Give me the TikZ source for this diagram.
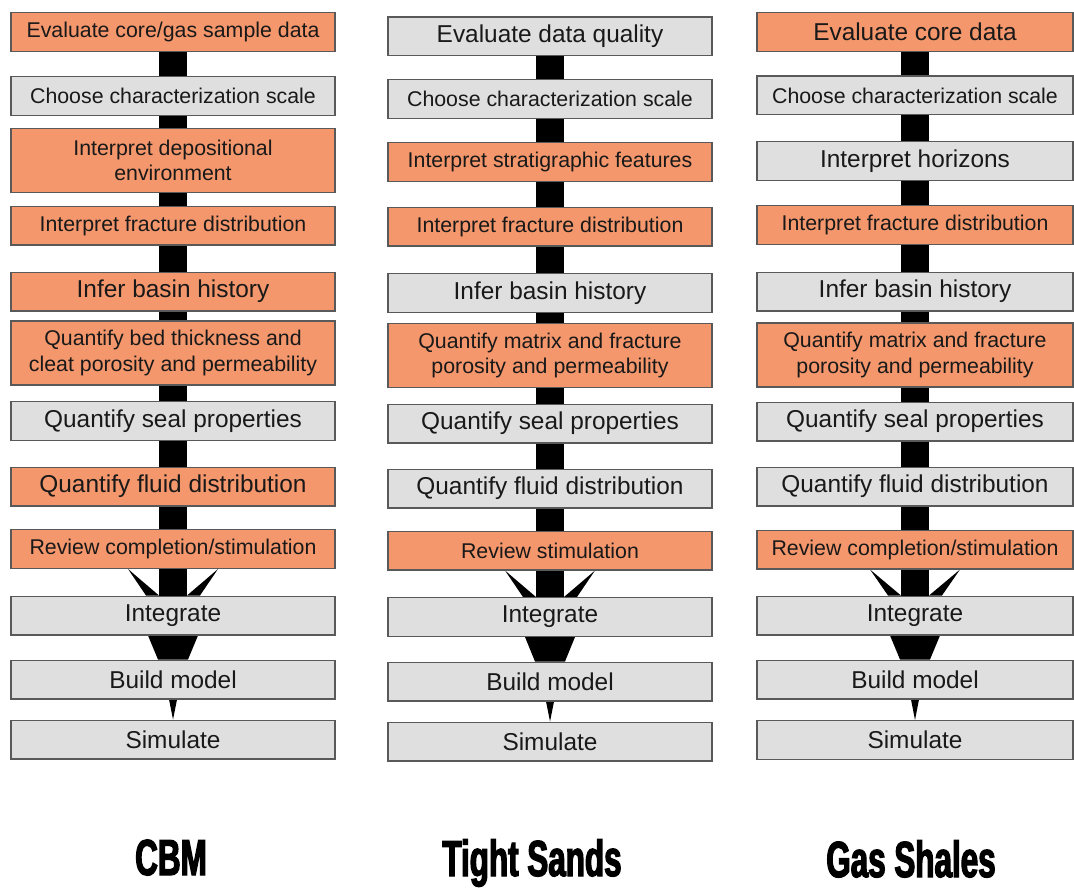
\documentclass[tikz,border=0pt]{standalone}
\usepackage{fontspec}
\setmainfont{Liberation Sans}
\newfontfamily\titlefont{Liberation Sans}[FakeStretch=0.62, BoldFeatures={FakeBold=2.5}]
\usepackage{tikz}
\usetikzlibrary{calc, backgrounds}
\definecolor{stepfill}{HTML}{F4976C}
\definecolor{basefill}{HTML}{DFDFDF}
\definecolor{stepdraw}{HTML}{595959}
\tikzset{
  keynode/.style={draw=stepdraw, fill=stepfill, line width=1pt, minimum width=243pt, minimum height=29pt, inner sep=0pt, align=center, text=black!90},
  basenode/.style={keynode, fill=basefill},
  twoline/.style={minimum height=48pt},
  narrow/.style={minimum width=237pt},
  smalltxt/.style={font=\fontsize{16}{18.8}\selectfont},
  largetxt/.style={font=\fontsize{18.3}{21}\selectfont},
  barline/.style={line width=21pt, draw=black},
  titlenode/.style={font=\titlefont\bfseries\fontsize{38}{40}\selectfont, anchor=base}
}

\begin{document}
\begin{tikzpicture}[x=0.75pt, y=-0.75pt]
  \useasboundingbox (0,0) rectangle (1074,888);

  % CBM workflow
  \node[keynode, smalltxt] (cbm1) at (173,32) {Evaluate core/gas sample data};
  \node[basenode, smalltxt] (cbm2) at (173,96) {Choose characterization scale};
  \node[keynode, smalltxt, twoline] (cbm3) at (173,160.5)
    {Interpret depositional \\ environment};
  \node[keynode, smalltxt] (cbm4) at (173,225.5) {Interpret fracture distribution};
  \node[keynode, largetxt] (cbm5) at (173,291.5) {Infer basin history};
  \node[keynode, smalltxt, twoline] (cbm6) at (173,353)
    {Quantify bed thickness and \\ cleat porosity and permeability};
  \node[basenode, largetxt] (cbm7) at (173,421) {Quantify seal properties};
  \node[keynode, largetxt] (cbm8) at (173,486.5) {Quantify fluid distribution};
  \node[keynode, smalltxt] (cbm9) at (173,549) {Review completion/stimulation};
  \node[basenode, largetxt] (cbm10) at (173,615.5) {Integrate};
  \node[basenode, largetxt] (cbm11) at (173,679.5) {Build model};
  \node[basenode, largetxt] (cbm12) at (173,739.5) {Simulate};

  % Tight sands workflow
  \node[basenode, largetxt] (tight1) at (550,36.5) {Evaluate data quality};
  \node[basenode, smalltxt] (tight2) at (550,99) {Choose characterization scale};
  \node[keynode, smalltxt] (tight3) at (550,162) {Interpret stratigraphic features};
  \node[keynode, smalltxt] (tight4) at (550,226.5) {Interpret fracture distribution};
  \node[basenode, largetxt] (tight5) at (550,293) {Infer basin history};
  \node[keynode, smalltxt, twoline] (tight6) at (550,355.5)
    {Quantify matrix and fracture \\ porosity and permeability};
  \node[basenode, largetxt] (tight7) at (550,423.5) {Quantify seal properties};
  \node[basenode, largetxt] (tight8) at (550,488.5) {Quantify fluid distribution};
  \node[keynode, smalltxt] (tight9) at (550,550.5) {Review stimulation};
  \node[basenode, largetxt] (tight10) at (550,617) {Integrate};
  \node[basenode, largetxt] (tight11) at (550,681.5) {Build model};
  \node[basenode, largetxt] (tight12) at (550,741.5) {Simulate};

  % Gas shales workflow
  \node[keynode, narrow, largetxt] (shale1) at (915,32) {Evaluate core data};
  \node[basenode, narrow, smalltxt] (shale2) at (915,95.5) {Choose characterization scale};
  \node[basenode, narrow, largetxt] (shale3) at (915,161) {Interpret horizons};
  \node[keynode, narrow, smalltxt] (shale4) at (915,225) {Interpret fracture distribution};
  \node[basenode, narrow, largetxt] (shale5) at (915,291.5) {Infer basin history};
  \node[keynode, narrow, smalltxt, twoline] (shale6) at (915,355)
    {Quantify matrix and fracture \\ porosity and permeability};
  \node[basenode, narrow, largetxt] (shale7) at (915,421.5) {Quantify seal properties};
  \node[basenode, narrow, largetxt] (shale8) at (915,486.5) {Quantify fluid distribution};
  \node[keynode, narrow, smalltxt] (shale9) at (915,549.5) {Review completion/stimulation};
  \node[basenode, narrow, largetxt] (shale10) at (915,615.5) {Integrate};
  \node[basenode, narrow, largetxt] (shale11) at (915,679.5) {Build model};
  \node[basenode, narrow, largetxt] (shale12) at (915,740) {Simulate};

  % black bars and funnels behind the boxes
  \begin{scope}[on background layer]
    \fill[white] (0,0) rectangle (1074,888);
    \foreach \col in {cbm,tight,shale}{
      \foreach \i [evaluate=\i as \j using int(\i+1)] in {1,...,9}
        \draw[barline] (\col\i.south) -- (\col\j.north);
      \fill ($(\col9.south)+(-45,0)$) -- ($(\col10.north)+(-27,0)$)
        -- ($(\col10.north)+(-14,0)$) -- cycle;
      \fill ($(\col9.south)+(45,0)$) -- ($(\col10.north)+(27,0)$)
        -- ($(\col10.north)+(14,0)$) -- cycle;
      \fill ($(\col10.south)+(-25,0)$) -- ($(\col10.south)+(25,0)$)
        -- ($(\col11.north)+(15,0)$) -- ($(\col11.north)+(-15,0)$) -- cycle;
      \fill ($(\col11.south)+(-4,0)$) -- ($(\col11.south)+(4,0)$)
        -- (\col12.north) -- cycle;
    }
  \end{scope}

  % titles
  \node[titlenode] (cbmtitle) at (171,875) {CBM};
  \node[titlenode] (tighttitle) at (532,876) {Tight Sands};
  \node[titlenode] (shaletitle) at (911,877) {Gas Shales};
\end{tikzpicture}
\end{document}
